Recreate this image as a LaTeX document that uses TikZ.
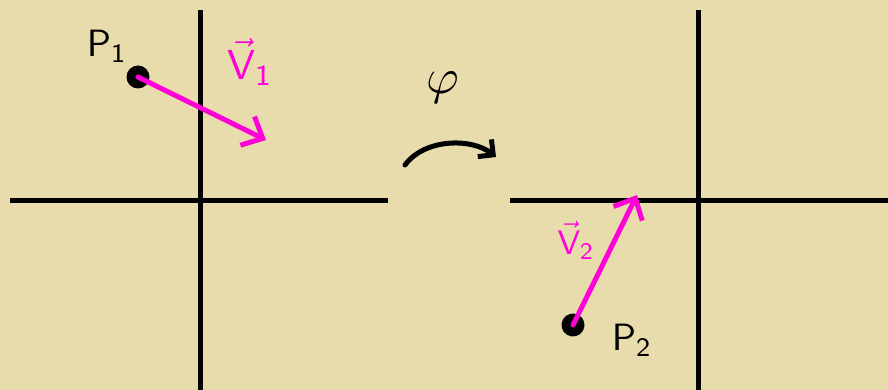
\documentclass[tikz,border=0pt]{standalone}
\usepackage{amsmath}
\usepackage{graphicx}
\usepackage{xcolor}
\usepackage{tikz}
\usetikzlibrary{arrows.meta, positioning}
\definecolor{paper}{RGB}{233,220,172}
\definecolor{veccol}{RGB}{255,0,215}

\begin{document}
\begin{tikzpicture}[
  x=1pt, y=-1pt,
  axis/.style={line width=5pt, black},
  vec/.style={line width=5pt, veccol, line cap=round,
    -{Straight Barb[length=17pt, width=32pt, line width=5pt]}},
  dot/.style={circle, fill=black, inner sep=0pt, minimum width=23pt, minimum height=20pt},
  lbl/.style={inner sep=0pt},
  vlbl/.style={lbl, veccol}
]
  \fill[paper] (0,0) rectangle (888,390);
  \useasboundingbox (0,0) rectangle (888,390);

  % left frame
  \coordinate (lxa) at (10,200);  \coordinate (lxb) at (388,200);
  \coordinate (lya) at (200,10);  \coordinate (lyb) at (200,390);
  \draw[axis] (lxa) -- (lxb);
  \draw[axis] (lya) -- (lyb);

  % right frame
  \coordinate (rxa) at (510,200); \coordinate (rxb) at (888,200);
  \coordinate (rya) at (698,10);  \coordinate (ryb) at (698,390);
  \draw[axis] (rxa) -- (rxb);
  \draw[axis] (rya) -- (ryb);

  % point and vector before the map
  \node[dot] (p1) at (138,77) {};
  \node[lbl] (p1lab) at (107,46) {\scalebox{3.8}{$\mathsf{P}_{\mathsf{1}}$}};
  \coordinate (v1tip) at (266,140);
  \draw[vec] (p1.center) -- (v1tip);
  \node[vlbl] (v1lab) at (250,62) {\scalebox{4.2}{$\vec{\mathsf{V}}_{\mathsf{1}}$}};

  % the map
  \node[lbl] (phi) at (443,88) {\scalebox{5}{$\varphi$}};
  \coordinate (ma) at (405,165);
  \coordinate (mb) at (496,157);
  \draw[line width=5pt, line cap=round,
    -{Straight Barb[length=11pt, width=22pt, line width=5pt]}]
    (ma) .. controls (425,138) and (472,138) .. (mb);

  % point and vector after the map
  \node[dot, rotate=60] (p2) at (573,325) {};
  \node[lbl] (p2lab) at (632,340) {\scalebox{3.8}{$\mathsf{P}_{\mathsf{2}}$}};
  \coordinate (v2tip) at (637,195);
  \draw[vec] (p2.center) -- (v2tip);
  \node[vlbl] (v2lab) at (576,240) {\scalebox{3.4}{$\vec{\mathsf{V}}_{\mathsf{2}}$}};

\end{tikzpicture}
\end{document}
